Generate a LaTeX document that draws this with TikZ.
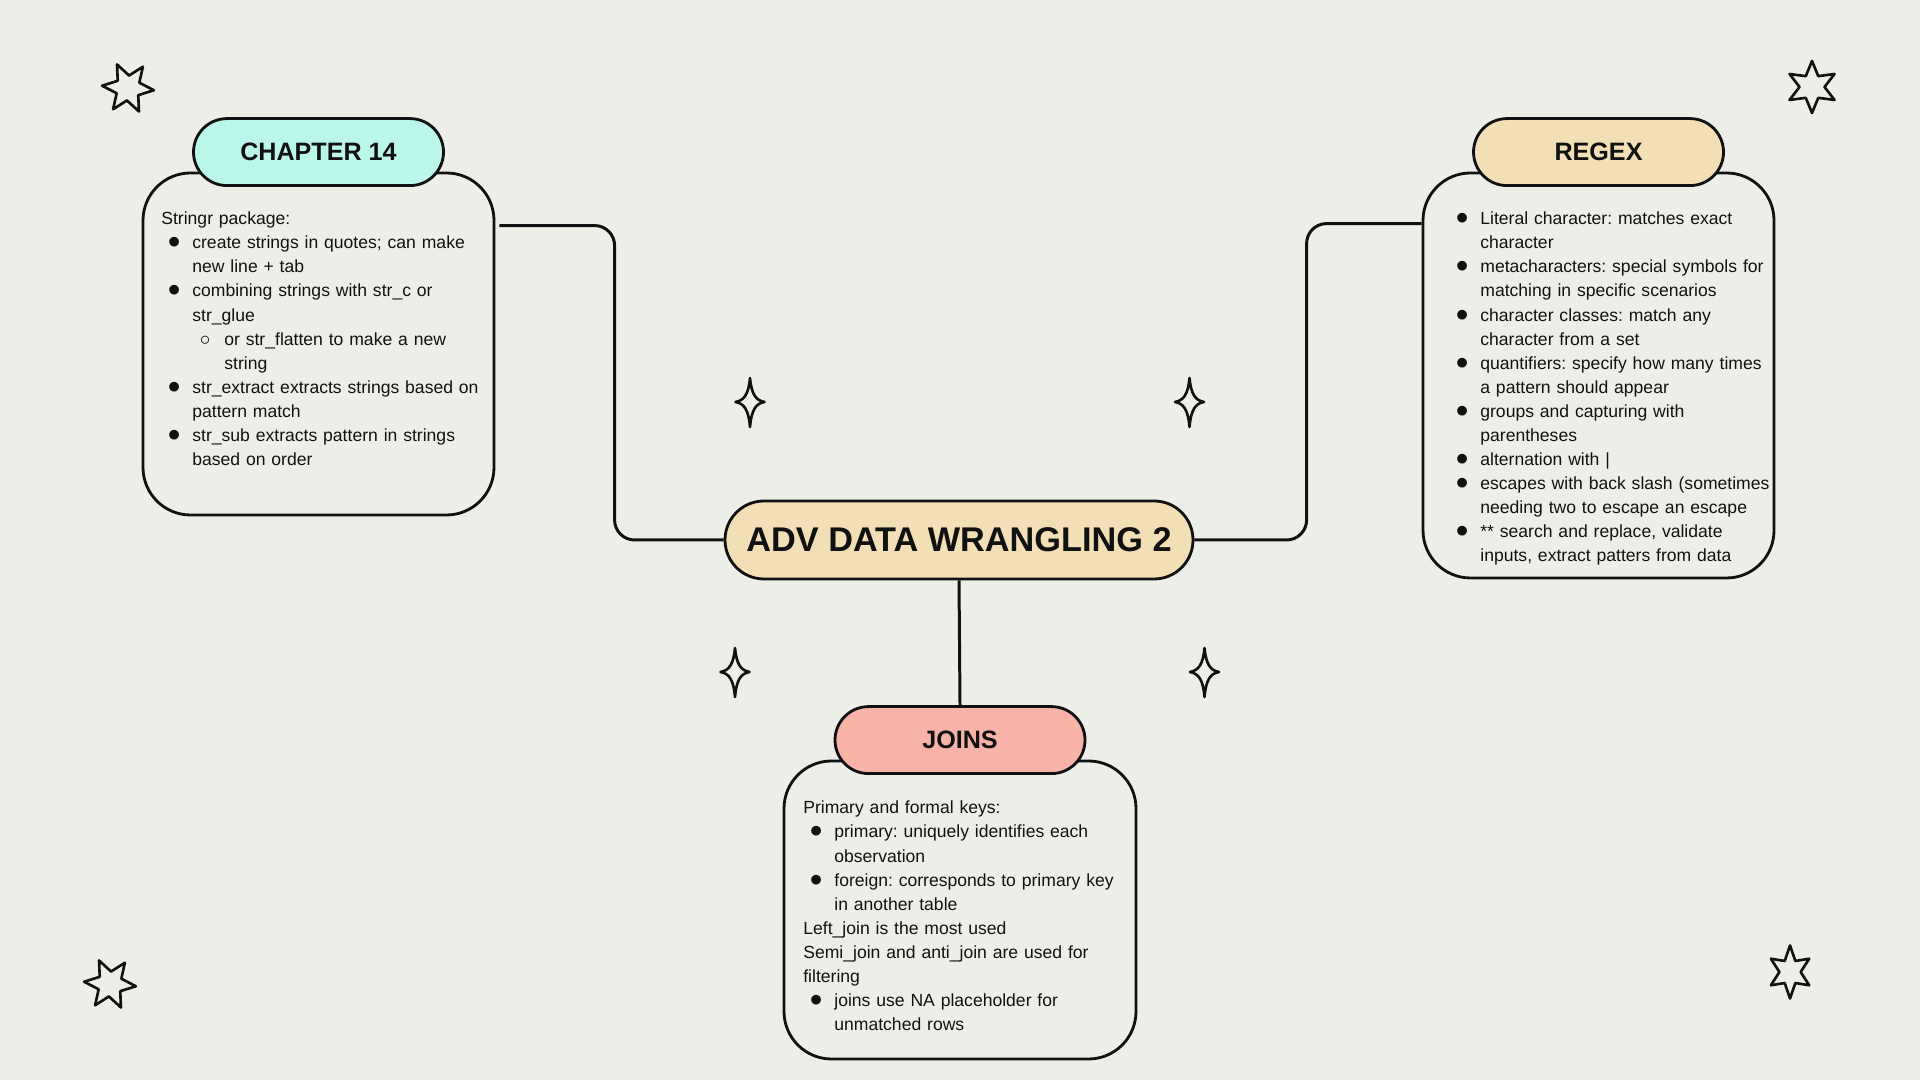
\documentclass[tikz,border=0pt]{standalone}
\usepackage{fontspec}
\setmainfont{Liberation Sans}
\usetikzlibrary{positioning,calc,shapes.misc}
\definecolor{paperBg}{HTML}{EEEEE9}
\definecolor{inkBlk}{HTML}{111111}
\definecolor{hubSand}{HTML}{F3DFB6}
\definecolor{chapMint}{HTML}{BAF6E9}
\definecolor{joinPink}{HTML}{F8B3A8}

% bullet / continuation lines inside the cards
\newcommand{\bl}{\makebox[0.62cm][l]{\hspace{0.13cm}\smash{\fontsize{14}{14}\selectfont$\bullet$}}}
\newcommand{\cl}{\hspace*{0.62cm}}
\newcommand{\sbl}{\makebox[1.26cm][l]{\hspace{0.77cm}\smash{\fontsize{12}{12}\selectfont$\circ$}}}
\newcommand{\scl}{\hspace*{1.26cm}}

\tikzset{
  dstar/.pic={\draw[doodle] (0:0.52) \foreach \k in {1,...,5}{ -- ({\k*60-30}:0.25) -- ({\k*60}:0.52)} -- (-30:0.25) -- cycle;},
  spark/.pic={\draw[doodle] (0,0.48) .. controls (0.03,0.15) and (0.12,0.03) .. (0.29,0)
     .. controls (0.12,-0.03) and (0.03,-0.15) .. (0,-0.5)
     .. controls (-0.03,-0.15) and (-0.12,-0.03) .. (-0.29,0)
     .. controls (-0.12,0.03) and (-0.03,0.15) .. (0,0.48) -- cycle;},
}

\begin{document}
\frenchspacing
\begin{tikzpicture}[
  pill/.style={rounded rectangle, draw=inkBlk, line width=1.6pt, minimum width=5cm, minimum height=1.34cm,
               inner sep=0pt, text=inkBlk, font=\bfseries\fontsize{14.3}{16}\selectfont},
  card/.style={draw=inkBlk, fill=paperBg, line width=1.6pt, rounded corners=0.95cm, minimum width=7.02cm},
  body/.style={anchor=base west, inner sep=0pt, text width=6.9cm, align=left, text=inkBlk,
               font=\fontsize{10}{13.66}\selectfont},
  link/.style={draw=inkBlk, line width=1.7pt, rounded corners=0.4cm},
  doodle/.style={draw=inkBlk, line width=1.5pt, line join=round, fill=paperBg},
]
\fill[paperBg] (0,0) rectangle (38.4,21.6);

% =========================== CENTRAL TOPIC ===========================
\node[pill, fill=hubSand, minimum width=9.36cm, minimum height=1.56cm,
      font=\bfseries\fontsize{19.5}{22}\selectfont] (hub) at (19.18,10.80) {ADV DATA WRANGLING 2};

% =========================== CHAPTER 14 ===========================
\node[card, minimum height=6.84cm] (chapB) at (6.37,14.72) {};
\node[pill, fill=chapMint] (chapT) at ([yshift=0.39cm]chapB.north) {CHAPTER 14};
\node[body] (chapTxt) at (3.22,17.10) {%
  Stringr package:\\
  \bl create strings in quotes; can make\\
  \cl new line + tab\\
  \bl combining strings with str\_c or\\
  \cl str\_glue\\
  \sbl or str\_flatten to make a new\\
  \scl string\\
  \bl str\_extract extracts strings based on\\
  \cl pattern match\\
  \bl str\_sub extracts pattern in strings\\
  \cl based on order};

% =========================== REGEX ===========================
\node[card, minimum height=8.10cm] (regB) at (31.97,14.09) {};
\node[pill, fill=hubSand] (regT) at ([yshift=0.39cm]regB.north) {REGEX};
\node[body] (regTxt) at (28.98,17.10) {%
  \bl Literal character: matches exact\\
  \cl character\\
  \bl metacharacters: special symbols for\\
  \cl matching in specific scenarios\\
  \bl character classes: match any\\
  \cl character from a set\\
  \bl quantifiers: specify how many times\\
  \cl a pattern should appear\\
  \bl groups and capturing with\\
  \cl parentheses\\
  \bl alternation with |\\
  \bl escapes with back slash (sometimes\\
  \cl needing two to escape an escape\\
  \bl ** search and replace, validate\\
  \cl inputs, extract patters from data};

% =========================== JOINS ===========================
\node[card, minimum width=7.04cm, minimum height=5.96cm] (joinB) at (19.20,3.40) {};
\node[pill, fill=joinPink] (joinT) at ([yshift=0.39cm]joinB.north) {JOINS};
\node[body] (joinTxt) at (16.06,5.32) {%
  Primary and formal keys:\\
  \bl primary: uniquely identifies each\\
  \cl observation\\
  \bl foreign: corresponds to primary key\\
  \cl in another table\\
  Left\_join is the most used\\
  Semi\_join and anti\_join are used for\\
  filtering\\
  \bl joins use NA placeholder for\\
  \cl unmatched rows};

% =========================== CONNECTORS ===========================
\draw[link] ($(chapB.north east)+(0.08,-1.08)$) -| ($(hub.west)+(-2.18,0)$) -- (hub.west);
\draw[link] (hub.east) -| ($(regB.north west)+(-2.30,-1.04)$) -- ($(regB.north west)+(0,-1.04)$);
\draw[link] (hub.south) -- (joinT.north);

% =========================== DOODLES ===========================
\pic[rotate=-5] at (2.56,19.84) {dstar};
\pic[rotate=30] at (36.24,19.86) {dstar};
\pic[rotate=-5] at (2.20,1.92) {dstar};
\pic[yscale=1.2, scale=0.85, rotate=30] at (35.80,2.16) {dstar};

\pic at (15.00,13.56) {spark};
\pic at (23.79,13.56) {spark};
\pic at (14.70,8.16) {spark};
\pic at (24.09,8.16) {spark};

\end{tikzpicture}
\end{document}
